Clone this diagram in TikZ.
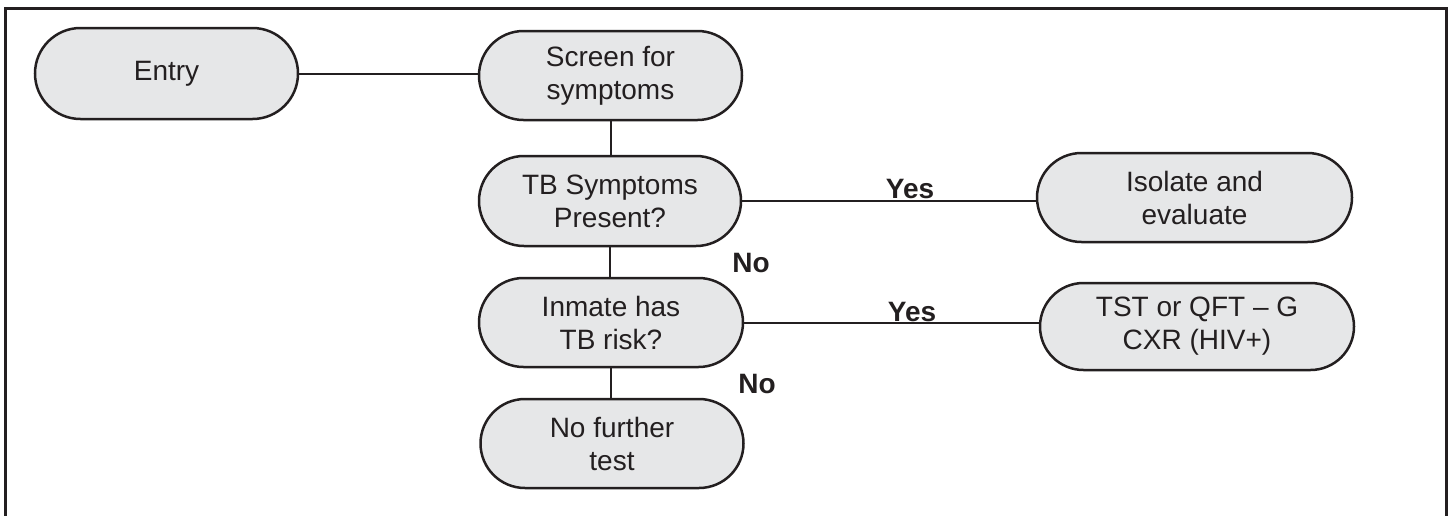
\documentclass[tikz,border=0pt]{standalone}
\usepackage{fontspec}
\setmainfont{Liberation Sans}
\usetikzlibrary{shapes.misc}
\definecolor{ink}{HTML}{231F20}
\definecolor{boxfill}{HTML}{E6E7E8}
\tikzset{
  flowbox/.style={rounded rectangle, draw=ink, line width=1.25pt, fill=boxfill,
    text=ink, font=\fontsize{14}{16.5}\selectfont, align=center, inner sep=0pt},
  conn/.style={draw=ink, line width=1pt},
  lbl/.style={text=ink, font=\fontsize{14}{16.5}\selectfont\bfseries, inner sep=0pt},
  frame/.style={draw=ink, line width=1.5pt}
}
\begin{document}
\begin{tikzpicture}[x=0.5pt,y=-0.5pt]
\useasboundingbox (0,0) rectangle (1451,515);
\draw[frame] (5,560) -- (5,8) -- (1446,8) -- (1446,560);

\node[flowbox, minimum width=131.5pt, minimum height=45.5pt] (entry) at (166.5,73.5) {Entry};
\node[flowbox, minimum width=131.5pt, minimum height=44.5pt] (screen) at (610.5,75.5) {Screen for\\symptoms};
\node[flowbox, minimum width=131pt, minimum height=45pt] (tbs) at (610,201) {TB Symptoms\\Present?};
\node[flowbox, minimum width=132pt, minimum height=44.5pt] (risk) at (611,322.5) {Inmate has\\TB risk?};
\node[flowbox, minimum width=131.5pt, minimum height=44.5pt] (nofurther) at (612,443.5) {No further\\test};
\node[flowbox, minimum width=157.5pt, minimum height=44.5pt] (isolate) at (1194.5,197.5) {Isolate and\\evaluate};
\node[flowbox, minimum width=157pt, minimum height=43.5pt] (tst) at (1197,326.5) {TST or QFT -- G\\CXR (HIV+)};

\draw[conn] (entry.east) -- (entry.east -| screen.west);
\draw[conn] (screen.south) -- (screen.south |- tbs.north);
\draw[conn] (tbs.south) -- (tbs.south |- risk.north);
\draw[conn] (risk.south) -- (risk.south |- nofurther.north);
\draw[conn] (tbs.east) -- (tbs.east -| isolate.west);
\draw[conn] (risk.east) -- (risk.east -| tst.west);

\node[lbl] (yes1) at (910,189) {Yes};
\node[lbl] (yes2) at (912,312) {Yes};
\node[lbl] (no1) at (751,263) {No};
\node[lbl] (no2) at (757,384) {No};
\end{tikzpicture}
\end{document}
